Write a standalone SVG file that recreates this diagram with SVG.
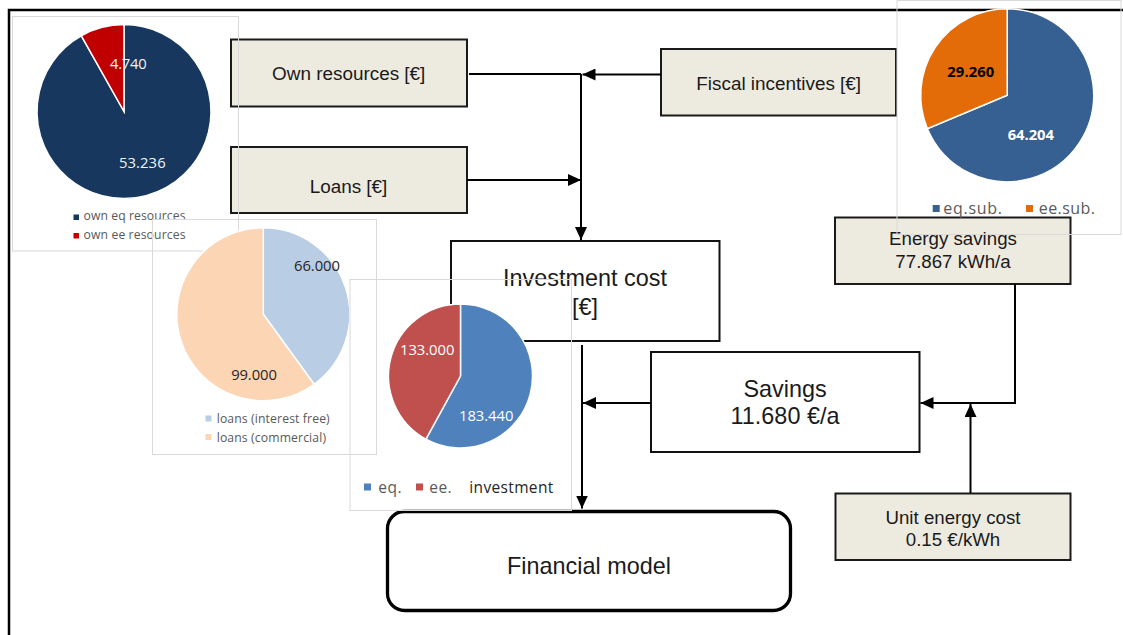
<svg xmlns="http://www.w3.org/2000/svg" width="1123" height="635" viewBox="0 0 1123 635">
<style>
.frame{stroke:#000;stroke-width:2.5;fill:none}
.beige{fill:#edeae0;stroke:#1a1a1a;stroke-width:2}
.white{fill:#fff;stroke:#111;stroke-width:2}
.t{font-family:"Liberation Sans",Arial,sans-serif;fill:#1a1a1a;text-anchor:middle}
.conn{stroke:#000;stroke-width:2;fill:none}
.panel{fill:none;stroke:#d9d9d9;stroke-width:1}
.lbl{font-family:"Open Sans",Lato,sans-serif;text-anchor:middle;font-size:14.8px}
.leg{font-family:"Open Sans",Lato,sans-serif;fill:#595959;font-size:12.2px}
.leg2{font-family:"Open Sans",Lato,sans-serif;fill:#595959;font-size:15.5px}
.leg3{font-family:"Open Sans",Lato,sans-serif;fill:#595959;font-size:16px}
.sep{stroke:#fff;stroke-width:1.5}
</style>
<defs>
<marker id="arr" viewBox="0 0 13 12" refX="13" refY="6" markerWidth="13" markerHeight="12" orient="auto" markerUnits="userSpaceOnUse">
<path d="M0,0 L13,6 L0,12 Z" fill="#000"/>
</marker>
</defs>
<rect width="1123" height="635" fill="#fff"/>
<g id="frame">
<path class="frame" d="M9,635 V10 H1123"/>
</g>
<g id="own-resources">
<rect class="beige" x="231" y="39.5" width="236" height="67"/>
<text class="t" x="348.7" y="80" font-size="18.9">Own resources [€]</text>
</g>
<g id="loans">
<rect class="beige" x="231" y="147" width="236" height="66"/>
<text class="t" x="348.5" y="193" font-size="18.9">Loans [€]</text>
</g>
<g id="fiscal-incentives">
<rect class="beige" x="661" y="49" width="235" height="66.5"/>
<text class="t" x="778.7" y="89.5" font-size="18.9">Fiscal incentives [€]</text>
</g>
<g id="investment-cost">
<rect class="white" x="451" y="241" width="268.5" height="100"/>
<text class="t" x="585" y="286" font-size="23.4">Investment cost</text>
<text class="t" x="585" y="315" font-size="23.4">[€]</text>
</g>
<g id="savings">
<rect class="white" x="651" y="352" width="268.5" height="100"/>
<text class="t" x="785" y="397" font-size="23.4">Savings</text>
<text class="t" x="785" y="424" font-size="23.4">11.680 €/a</text>
</g>
<g id="energy-savings">
<rect class="beige" x="835" y="217.5" width="235.5" height="66.5"/>
<text class="t" x="953" y="245" font-size="18.7">Energy savings</text>
<text class="t" x="953" y="267.5" font-size="18.7">77.867 kWh/a</text>
</g>
<g id="unit-energy-cost">
<rect class="beige" x="835.5" y="493.5" width="235" height="66.5"/>
<text class="t" x="953" y="523.5" font-size="18.7">Unit energy cost</text>
<text class="t" x="953" y="545.5" font-size="18.7">0.15 €/kWh</text>
</g>
<g id="financial-model">
<rect x="387.5" y="511.5" width="403" height="99" rx="17" ry="17" fill="#fff" stroke="#000" stroke-width="3.3"/>
<text class="t" x="589" y="573.5" font-size="23.4">Financial model</text>
</g>
<g id="connectors">
<path class="conn" stroke-width="1.5" d="M469,74 H581"/>
<path class="conn" d="M661,74.5 H582.5" marker-end="url(#arr)"/>
<path class="conn" d="M467,180 H581" marker-end="url(#arr)"/>
<path class="conn" d="M581,74 V240" marker-end="url(#arr)"/>
<path class="conn" d="M582,345 V508.5" marker-end="url(#arr)"/>
<path class="conn" d="M651,403 H583" marker-end="url(#arr)"/>
<path class="conn" d="M1015,284 V403 H920.5" marker-end="url(#arr)"/>
<path class="conn" d="M970.5,493 V404" marker-end="url(#arr)"/>
</g>
<g id="chart-own-resources">
<rect class="panel" x="12.5" y="16.5" width="226" height="234.5"/>
<path class="sep" fill="#17375e" d="M124,111.5 L124,24.5 A87,87 0 1,1 81.24,35.73 Z"/>
<path class="sep" fill="#c00000" d="M124,111.5 L81.24,35.73 A87,87 0 0,1 124,24.5 Z"/>
<text class="lbl" x="128.3" y="69" fill="#f2f2f2" textLength="36.7">4.740</text>
<text class="lbl" x="142.3" y="167.5" fill="#f2f2f2" textLength="46.7">53.236</text>
<rect x="73.5" y="214.5" width="5.5" height="5.5" fill="#17375e"/>
<text class="leg" x="83.5" y="220" textLength="102">own eq resources</text>
<rect x="73.5" y="233" width="5.5" height="5.5" fill="#c00000"/>
<text class="leg" x="83.5" y="239" textLength="102">own ee resources</text>
</g>
<g id="chart-loans">
<rect class="panel" x="152.5" y="219.5" width="224" height="235"/>
<path class="sep" fill="#b9cde5" d="M263.3,314.3 L263.3,227.8 A86.5,86.5 0 0,1 314.14,384.28 Z"/>
<path class="sep" fill="#fcd5b5" d="M263.3,314.3 L314.14,384.28 A86.5,86.5 0 1,1 263.3,227.8 Z"/>
<text class="lbl" x="317" y="271" fill="#262626" textLength="46">66.000</text>
<text class="lbl" x="254" y="380" fill="#262626" textLength="45.7">99.000</text>
<rect x="205.5" y="415.5" width="6" height="6" fill="#b9cde5"/>
<text class="leg" x="216.7" y="422.7" textLength="113">loans (interest free)</text>
<rect x="205.5" y="434" width="6" height="6" fill="#fcd5b5"/>
<text class="leg" x="216.7" y="441.7" textLength="109.3">loans (commercial)</text>
</g>
<g id="chart-investment">
<rect class="panel" x="350" y="279.5" width="221.5" height="231"/>
<path class="sep" fill="#4f81bd" d="M460.5,376 L460.5,304 A72,72 0 1,1 425.93,439.15 Z"/>
<path class="sep" fill="#c0504d" d="M460.5,376 L425.93,439.15 A72,72 0 0,1 460.5,304 Z"/>
<text class="lbl" x="427.2" y="355" fill="#fff" textLength="54.3">133.000</text>
<text class="lbl" x="486.2" y="421" fill="#fff" textLength="54.3">183.440</text>
<rect x="364" y="483.5" width="7" height="7" fill="#4f81bd"/>
<text class="leg2" x="378.3" y="492.7" textLength="23.3">eq.</text>
<rect x="416" y="483.5" width="7" height="7" fill="#c0504d"/>
<text class="leg2" x="429.3" y="492.7" textLength="22.3">ee.</text>
<text class="leg2" x="469.3" y="492.7" style="fill:#262626" textLength="84">investment</text>
</g>
<g id="chart-fiscal">
<rect class="panel" x="897" y="0.5" width="224" height="234"/>
<path class="sep" fill="#376092" d="M1007.2,95.3 L1007.2,8.8 A86.5,86.5 0 1,1 927.4,128.68 Z"/>
<path class="sep" fill="#e36c09" d="M1007.2,95.3 L927.4,128.68 A86.5,86.5 0 0,1 1007.2,8.8 Z"/>
<text class="lbl" x="970.8" y="77.3" fill="#000" font-weight="bold" textLength="47">29.260</text>
<text class="lbl" x="1030.8" y="140" fill="#fff" font-weight="bold" textLength="46.3">64.204</text>
<rect x="932.7" y="205" width="7" height="7" fill="#376092"/>
<text class="leg3" x="943.3" y="214.3" textLength="58.7">eq.sub.</text>
<rect x="1026" y="205" width="7" height="7" fill="#e36c09"/>
<text class="leg3" x="1038.7" y="214.3" textLength="56.3">ee.sub.</text>
</g>
</svg>
